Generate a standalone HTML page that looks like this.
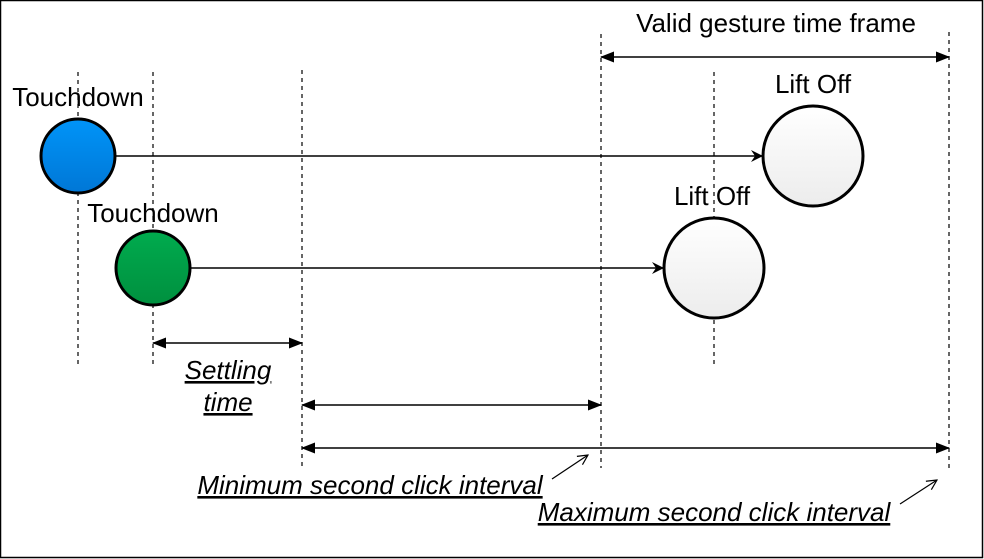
<!DOCTYPE html>
<html><head><meta charset="utf-8"><style>
html,body{margin:0;padding:0;background:#fff;}
svg{display:block;}
text{font-family:"Liberation Sans",Arial,sans-serif;fill:#000;}
</style></head><body>
<svg width="984" height="559" viewBox="0 0 984 559" xmlns="http://www.w3.org/2000/svg">
<defs>
<marker id="a" markerWidth="14" markerHeight="12" refX="13" refY="6" orient="auto-start-reverse" markerUnits="userSpaceOnUse">
<path d="M0,0.5 L14,6 L0,11.5 z" fill="#000"/></marker>
<marker id="o" markerWidth="14" markerHeight="14" refX="13" refY="7" orient="auto" markerUnits="userSpaceOnUse">
<path d="M1,1 L13,7 L1,13 L5,7 z" fill="#000"/></marker>
<marker id="s" markerWidth="12" markerHeight="12" refX="11" refY="6" orient="auto" markerUnits="userSpaceOnUse">
<path d="M1,1 L11,6 L1,11" fill="none" stroke="#000" stroke-width="1.2"/></marker>
<linearGradient id="gb" x1="0" y1="0" x2="0" y2="1"><stop offset="0" stop-color="#0094f8"/><stop offset="1" stop-color="#0077d6"/></linearGradient>
<linearGradient id="gg" x1="0" y1="0" x2="0" y2="1"><stop offset="0" stop-color="#00ab4e"/><stop offset="1" stop-color="#00903f"/></linearGradient>
<linearGradient id="gw" x1="0" y1="0" x2="0" y2="1"><stop offset="0" stop-color="#ffffff"/><stop offset="1" stop-color="#ececec"/></linearGradient>
</defs>
<rect x="0.5" y="0.5" width="982" height="557" fill="#fff" stroke="#000" stroke-width="1.5"/>
<g stroke="#000" stroke-width="1.2" stroke-dasharray="4,4" fill="none">
<line x1="78" y1="72" x2="78" y2="368"/>
<line x1="153" y1="72" x2="153" y2="368"/>
<line x1="302" y1="70" x2="302" y2="468"/>
<line x1="601" y1="34" x2="601" y2="468"/>
<line x1="714" y1="72" x2="714" y2="368"/>
<line x1="949" y1="32" x2="949" y2="468"/>
</g>
<g stroke="#000" stroke-width="1.5" fill="none">
<line x1="116" y1="156" x2="763" y2="156" marker-end="url(#o)"/>
<line x1="190" y1="268" x2="664" y2="268" marker-end="url(#o)"/>
<line x1="153" y1="343" x2="302" y2="343" marker-start="url(#a)" marker-end="url(#a)"/>
<line x1="302" y1="405" x2="601" y2="405" marker-start="url(#a)" marker-end="url(#a)"/>
<line x1="302" y1="448" x2="949" y2="448" marker-start="url(#a)" marker-end="url(#a)"/>
<line x1="601" y1="57" x2="949" y2="57" marker-start="url(#a)" marker-end="url(#a)"/>
<line x1="552" y1="479" x2="588" y2="455" stroke-width="1.2" marker-end="url(#s)"/>
<line x1="900" y1="504" x2="937" y2="480" stroke-width="1.2" marker-end="url(#s)"/>
</g>
<circle cx="78" cy="156" r="37" fill="url(#gb)" stroke="#000" stroke-width="3"/>
<circle cx="153" cy="268" r="37" fill="url(#gg)" stroke="#000" stroke-width="3"/>
<circle cx="813" cy="156" r="50" fill="url(#gw)" stroke="#000" stroke-width="3"/>
<circle cx="714" cy="268" r="50" fill="url(#gw)" stroke="#000" stroke-width="3"/>
<g font-size="26" text-anchor="middle">
<text x="78" y="106">Touchdown</text>
<text x="153" y="222">Touchdown</text>
<text x="813" y="93">Lift Off</text>
<text x="712" y="205">Lift Off</text>
<text x="776" y="32">Valid gesture time frame</text>
</g>
<g font-size="26" font-style="italic" text-anchor="middle">
<text x="228" y="379" text-decoration="underline">Settling</text>
<text x="228" y="411" text-decoration="underline">time</text>
<text x="370" y="494" text-decoration="underline">Minimum second click interval</text>
<text x="714" y="521" text-decoration="underline">Maximum second click interval</text>
</g>
</svg>
</body></html>
